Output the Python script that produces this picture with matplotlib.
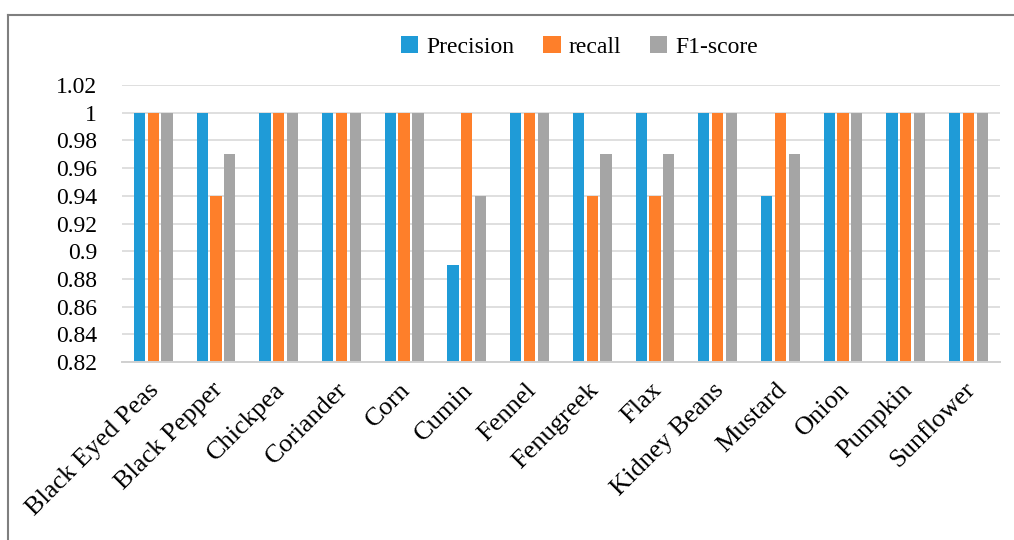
import numpy as np
import matplotlib
matplotlib.use('Agg')
import matplotlib.pyplot as plt
import matplotlib.transforms as mtransforms
from matplotlib.lines import Line2D

# Datos del gráfico
categorias = ['Black Eyed Peas', 'Black Pepper', 'Chickpea', 'Coriander', 'Corn',
              'Cumin', 'Fennel', 'Fenugreek', 'Flax', 'Kidney Beans', 'Mustard',
              'Onion', 'Pumpkin', 'Sunflower']
precision = [1, 1, 1, 1, 1, 0.89, 1, 1, 1, 1, 0.94, 1, 1, 1]
recall = [1, 0.94, 1, 1, 1, 1, 1, 0.94, 0.94, 1, 1, 1, 1, 1]
f1_score = [1, 0.97, 1, 1, 1, 0.94, 1, 0.97, 0.97, 1, 0.97, 1, 1, 1]
yticks = [0.82, 0.84, 0.86, 0.88, 0.9, 0.92, 0.94, 0.96, 0.98, 1, 1.02]
ytick_labels = ['0.82', '0.84', '0.86', '0.88', '0.9', '0.92', '0.94', '0.96', '0.98', '1', '1.02']

plt.rcParams['font.family'] = ['Liberation Serif', 'DejaVu Serif']

fig = plt.figure(figsize=(10.14, 5.40), dpi=100)
ax = fig.add_axes([0.1203, 0.3296, 0.8657, 0.513])

x = np.arange(len(categorias))
ancho = 0.18
sep = 0.22
ax.bar(x - sep, precision, ancho, color='#1f9bd7', label='Precision', zorder=2)
ax.bar(x, recall, ancho, color='#fe7f2a', label='recall', zorder=2)
ax.bar(x + sep, f1_score, ancho, color='#a5a5a5', label='F1-score', zorder=2)

ax.set_xlim(-0.5, len(categorias) - 0.5)
ax.set_ylim(0.82, 1.02)
ax.set_yticks(yticks)
ax.set_yticklabels(ytick_labels)
ax.yaxis.grid(True, color='#d9d9d9', linewidth=1.2, zorder=0)
ax.set_axisbelow(True)
for lado in ['top', 'right', 'left']:
    ax.spines[lado].set_visible(False)
ax.spines['bottom'].set_color('#d0d0d0')
ax.spines['bottom'].set_linewidth(1.4)
ax.tick_params(axis='both', length=0)
ax.tick_params(axis='y', pad=18, labelsize=17)
ax.set_xticks(x)
ax.set_xticklabels(categorias, rotation=45, ha='right', va='top',
                   rotation_mode='anchor', fontsize=19)
ax.tick_params(axis='x', pad=12)
desplazamiento = mtransforms.ScaledTranslation(-5 / 100, 0, fig.dpi_scale_trans)
for etiqueta in ax.get_xticklabels():
    etiqueta.set_transform(etiqueta.get_transform() + desplazamiento)

fig.legend(loc='center', bbox_to_anchor=(0.5715, 0.913), ncol=3, frameon=False,
           fontsize=17, handlelength=0.75, handleheight=0.75,
           handletextpad=0.35, columnspacing=1.2)

# Borde del área del gráfico
fig.add_artist(Line2D([8 / 1014, 8 / 1014], [0, 1 - 15 / 540],
                      color='#7f7f7f', linewidth=1.5))
fig.add_artist(Line2D([8 / 1014, 1], [1 - 15 / 540, 1 - 15 / 540],
                      color='#7f7f7f', linewidth=1.5))

fig.savefig('out.png', dpi=100)
